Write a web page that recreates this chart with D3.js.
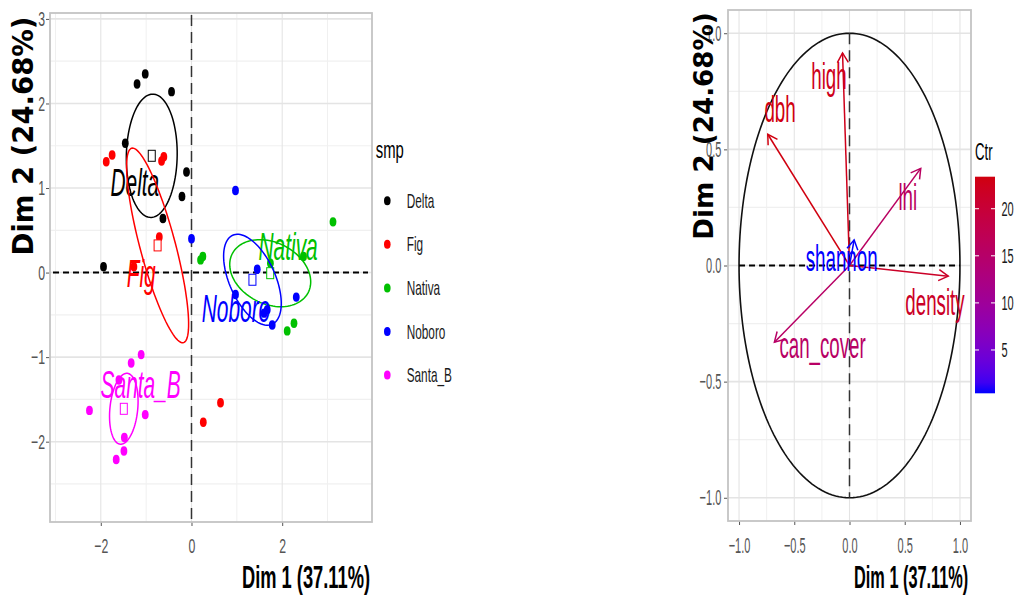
<!DOCTYPE html>
<html>
<head>
<meta charset="utf-8">
<script src="https://cdn.jsdelivr.net/npm/d3@7"></script>
<style>
body { margin: 0; background: #fff; }
svg { display: block; font-family: "Liberation Sans", Arial, sans-serif; }
</style>
</head>
<body>
<svg id="chart" width="1016" height="597"></svg>
<script>
// ---- individuals plot data (Dim 1, Dim 2) ----
const groups = ["Delta", "Fig", "Nativa", "Noboro", "Santa_B"];
const groupColors = ["#000000", "#FF0000", "#00C000", "#0000FF", "#FF00FF"];

const ptsDelta  = [[-1.20, 2.23], [-1.02, 2.35], [-0.44, 2.14], [-1.46, 1.53], [-0.11, 1.19], [-0.21, 0.90], [-0.63, 0.64], [-1.94, 0.07]];
const ptsFig    = [[-1.88, 1.31], [-1.75, 1.39], [-0.66, 1.32], [-0.61, 1.37], [-0.71, 0.42], [-1.27, 0.07], [0.26, -1.77], [0.64, -1.54]];
const ptsNativa = [[0.20, 0.15], [0.25, 0.19], [1.74, 0.11], [2.47, 0.19], [3.12, 0.60], [2.11, -0.69], [2.26, -0.60]];
const ptsNoboro = [[0.97, 0.97], [0.00, 0.40], [1.45, 0.04], [0.97, -0.26], [2.31, -0.29], [1.67, -0.44], [1.60, -0.48], [1.78, -0.62]];
const ptsSantaB = [[-1.11, -0.97], [-1.33, -1.07], [-1.60, -1.27], [-2.25, -1.63], [-1.02, -1.68], [-1.48, -1.95], [-1.49, -2.11], [-1.66, -2.21]];
const groupPoints = [ptsDelta, ptsFig, ptsNativa, ptsNoboro, ptsSantaB];

// confidence ellipses: semi-axes and angle (degrees, data space)
const ellA = [0.73, 1.29, 0.90, 0.73, 0.43];
const ellB = [0.56, 0.36, 0.38, 0.40, 0.30];
const ellAngle = [86, 118, -8, -36, 72];

// group label positions (x centre, baseline)
const groupLabelX = [-1.25, -1.11, 2.13, 0.98, -1.12];
const groupLabelY = [0.90, -0.17, 0.15, -0.58, -1.48];

const indXTicks = [-2, 0, 2];
const indYTicks = [-2, -1, 0, 1, 2, 3];
const indXMinor = [-3, -1, 1, 3];
const indYMinor = [-2.5, -1.5, -0.5, 0.5, 1.5, 2.5];

// ---- variables plot data ----
const varNames = ["high", "dbh", "lhi", "shannon", "density", "can_cover"];
const varDim1 = [-0.063, -0.74, 0.645, 0.042, 0.894, -0.68];
const varDim2 = [0.915, 0.565, 0.418, 0.11, -0.046, -0.33];
const varCtr = [22.7, 23.4, 15.9, 0.4, 21.6, 15.4];
const varLabelX = [-0.186, -0.629, 0.528, -0.071, 0.774, -0.244];
const varLabelY = [0.760, 0.619, 0.239, -0.024, -0.213, -0.40];

const varTicks = [-1, -0.5, 0, 0.5, 1];
const varMinor = [-0.75, -0.25, 0.25, 0.75];
const ctrTicks = [5, 10, 15, 20];

const svg = d3.select("#chart");

// text drawn narrower than the font, like the reference
function squashText(g, x, y, str, sx, size, opts) {
  opts = opts || {};
  return g.append("text")
    .attr("transform", "translate(" + x + "," + y + ") scale(" + sx + ",1)")
    .attr("text-anchor", opts.anchor || "start")
    .attr("font-size", size)
    .attr("font-weight", opts.weight || "normal")
    .attr("font-style", opts.style || "normal")
    .attr("fill", opts.fill || "#000")
    .text(str);
}

function drawGrid(g, x, y, xMajor, xMinor, yMajor, yMinor) {
  const x0 = x.range()[0], x1 = x.range()[1], y0 = y.range()[0], y1 = y.range()[1];
  g.selectAll(".vminor").data(xMinor).enter().append("line")
    .attr("x1", d => x(d)).attr("x2", d => x(d)).attr("y1", y0).attr("y2", y1)
    .attr("stroke", "#f0f0f0").attr("stroke-width", 1);
  g.selectAll(".hminor").data(yMinor).enter().append("line")
    .attr("y1", d => y(d)).attr("y2", d => y(d)).attr("x1", x0).attr("x2", x1)
    .attr("stroke", "#f0f0f0").attr("stroke-width", 1.2);
  g.selectAll(".vmajor").data(xMajor).enter().append("line")
    .attr("x1", d => x(d)).attr("x2", d => x(d)).attr("y1", y0).attr("y2", y1)
    .attr("stroke", "#e4e4e4").attr("stroke-width", 1.1);
  g.selectAll(".hmajor").data(yMajor).enter().append("line")
    .attr("y1", d => y(d)).attr("y2", d => y(d)).attr("x1", x0).attr("x2", x1)
    .attr("stroke", "#e4e4e4").attr("stroke-width", 1.6);
}

function drawAxes(g, x, y, xTicks, yTicks, fmt, size, sx, padLeft) {
  const xAxis = d3.axisBottom(x).tickValues(xTicks).tickSize(4).tickFormat(fmt);
  const yAxis = d3.axisLeft(y).tickValues(yTicks).tickSize(4).tickFormat(fmt);
  const gx = g.append("g").attr("transform", "translate(0," + y.range()[0] + ")").call(xAxis);
  const gy = g.append("g").attr("transform", "translate(" + x.range()[0] + ",0)").call(yAxis);
  [gx, gy].forEach(a => {
    a.select(".domain").remove();
    a.selectAll("line").attr("stroke", "#555");
    a.selectAll("text").attr("fill", "#555").attr("font-size", size)
      .attr("font-family", "'Liberation Sans', Arial, sans-serif");
  });
  gx.selectAll("text").attr("y", 16).attr("dy", "0.71em").attr("transform", "scale(" + sx + ",1)");
  gy.selectAll("text").attr("x", -padLeft / sx).attr("transform", "scale(" + sx + ",1)");
  // panel border
  g.append("rect")
    .attr("x", x.range()[0]).attr("y", y.range()[1])
    .attr("width", x.range()[1] - x.range()[0]).attr("height", y.range()[0] - y.range()[1])
    .attr("fill", "none").attr("stroke", "#c4c4c4").attr("stroke-width", 1.8);
}

// ===================== left: individuals =====================
const gL = svg.append("g");
const xL = d3.scaleLinear().domain([-3.12, 3.98]).range([50, 372]);
const yL = d3.scaleLinear().domain([-2.95, 3.07]).range([522, 13]);

drawGrid(gL, xL, yL, indXTicks, indXMinor, indYTicks, indYMinor);

// reference lines
gL.append("line").attr("x1", xL.range()[0] + 3).attr("x2", xL.range()[1] - 4)
  .attr("y1", yL(0)).attr("y2", yL(0))
  .attr("stroke", "#000").attr("stroke-width", 2).attr("stroke-dasharray", "6,4");
gL.append("line").attr("x1", xL(0)).attr("x2", xL(0))
  .attr("y1", yL.range()[1] + 2).attr("y2", yL.range()[0])
  .attr("stroke", "#333").attr("stroke-width", 1.5).attr("stroke-dasharray", "11,6");

const ellLine = d3.line().x(d => xL(d[0])).y(d => yL(d[1]));

groups.forEach((name, i) => {
  const col = groupColors[i];
  const pts = groupPoints[i];
  const mx = d3.mean(pts, d => d[0]);
  const my = d3.mean(pts, d => d[1]);

  gL.selectAll(".pt" + i).data(pts).enter().append("ellipse")
    .attr("cx", d => xL(d[0])).attr("cy", d => yL(d[1]))
    .attr("rx", 3.4).attr("ry", 4.7).attr("fill", col);

  const th = ellAngle[i] * Math.PI / 180;
  const ring = d3.range(0, 101).map(k => {
    const t = k / 100 * 2 * Math.PI;
    const u = ellA[i] * Math.cos(t), v = ellB[i] * Math.sin(t);
    return [mx + u * Math.cos(th) - v * Math.sin(th), my + u * Math.sin(th) + v * Math.cos(th)];
  });
  gL.append("path").attr("d", ellLine(ring))
    .attr("fill", "none").attr("stroke", col).attr("stroke-width", 1.5);

  squashText(gL, xL(groupLabelX[i]), yL(groupLabelY[i]), name, 0.55, 38,
    { anchor: "middle", style: "italic", fill: col });

  gL.append("rect")
    .attr("x", xL(mx) - 3.5).attr("y", yL(my) - 5.5)
    .attr("width", 7).attr("height", 11)
    .attr("fill", "#fff").attr("stroke", col).attr("stroke-width", 1);
});

drawAxes(gL, xL, yL, indXTicks, indYTicks, d3.format("d"), 20.5, 0.6, 5);

squashText(gL, 370, 588, "Dim 1 (37.11%)", 0.59, 31, { anchor: "end", weight: "bold" });
gL.append("text")
  .attr("transform", "translate(33,136) rotate(-90)")
  .attr("text-anchor", "middle")
  .attr("font-family", "'DejaVu Sans', sans-serif")
  .attr("font-weight", "bold").attr("font-size", 27.5)
  .text("Dim 2 (24.68%)");

// legend
const legY0 = 200.7, legStep = 43.6;
squashText(gL, 375.7, 158, "smp", 0.62, 24);
groups.forEach((name, i) => {
  gL.append("ellipse").attr("cx", 387.3).attr("cy", legY0 + i * legStep)
    .attr("rx", 3.3).attr("ry", 4.5).attr("fill", groupColors[i]);
  squashText(gL, 406.7, legY0 + i * legStep + 7, name, 0.59, 20, { fill: "#1a1a1a" });
});

// ===================== right: variables =====================
const gR = svg.append("g");
const xR = d3.scaleLinear().domain([-1.1, 1.1]).range([728, 971]);
const yR = d3.scaleLinear().domain([-1.1, 1.1]).range([521, 10]);

drawGrid(gR, xR, yR, varTicks, varMinor, varTicks, varMinor);

const ctrMin = d3.min(varCtr), ctrMax = d3.max(varCtr);
const ctrColor = d3.scaleLinear()
  .domain([ctrMin, ctrMax])
  .range(["#0000FF", "#D0000F"])
  .interpolate(d3.interpolateLab);

// correlation circle
const circ = d3.range(0, 201).map(k => {
  const t = k / 200 * 2 * Math.PI;
  return [Math.cos(t), Math.sin(t)];
});
gR.append("path")
  .attr("d", d3.line().x(d => xR(d[0])).y(d => yR(d[1]))(circ))
  .attr("fill", "none").attr("stroke", "#111").attr("stroke-width", 1.6);

gR.append("line").attr("x1", xR(-1)).attr("x2", xR(1)).attr("y1", yR(0)).attr("y2", yR(0))
  .attr("stroke", "#000").attr("stroke-width", 2).attr("stroke-dasharray", "6,4");
gR.append("line").attr("x1", xR(0)).attr("x2", xR(0)).attr("y1", yR(1)).attr("y2", yR(-1))
  .attr("stroke", "#333").attr("stroke-width", 1.5).attr("stroke-dasharray", "11,6");

varNames.forEach((name, i) => {
  const col = ctrColor(varCtr[i]);
  const x0 = xR(0), y0 = yR(0), x1 = xR(varDim1[i]), y1 = yR(varDim2[i]);
  gR.append("line").attr("x1", x0).attr("y1", y0).attr("x2", x1).attr("y2", y1)
    .attr("stroke", col).attr("stroke-width", 1.5);
  const ang = Math.atan2(y1 - y0, x1 - x0);
  const hl = 11, ha = Math.PI / 6;
  const head = [
    [x1 - hl * Math.cos(ang - ha), y1 - hl * Math.sin(ang - ha)],
    [x1, y1],
    [x1 - hl * Math.cos(ang + ha), y1 - hl * Math.sin(ang + ha)]
  ];
  gR.append("path").attr("d", d3.line()(head))
    .attr("fill", "none").attr("stroke", col).attr("stroke-width", 1.5);
});

varNames.forEach((name, i) => {
  squashText(gR, xR(varLabelX[i]), yR(varLabelY[i]), name, 0.52, 36,
    { anchor: "middle", fill: ctrColor(varCtr[i]) });
});

drawAxes(gR, xR, yR, varTicks, varTicks, d3.format(".1f"), 22, 0.5, 6.7);

squashText(gR, 968.3, 588, "Dim 1 (37.11%)", 0.51, 32, { anchor: "end", weight: "bold" });
gR.append("text")
  .attr("transform", "translate(713,126) rotate(-90)")
  .attr("text-anchor", "middle")
  .attr("font-family", "'DejaVu Sans', sans-serif")
  .attr("font-weight", "bold").attr("font-size", 26.2)
  .text("Dim 2 (24.68%)");

// colour bar legend
const barX = 975, barW = 20;
const barY = d3.scaleLinear().domain([ctrMin, ctrMax]).range([393.3, 176.7]);
const grad = svg.append("defs").append("linearGradient")
  .attr("id", "ctrGrad").attr("x1", 0).attr("y1", 1).attr("x2", 0).attr("y2", 0);
d3.range(0, 21).forEach(k => {
  grad.append("stop").attr("offset", k / 20)
    .attr("stop-color", ctrColor(ctrMin + k / 20 * (ctrMax - ctrMin)));
});
gR.append("rect").attr("x", barX).attr("y", barY.range()[1])
  .attr("width", barW).attr("height", barY.range()[0] - barY.range()[1])
  .attr("fill", "url(#ctrGrad)");
ctrTicks.forEach(v => {
  gR.append("line").attr("x1", barX).attr("x2", barX + 4).attr("y1", barY(v)).attr("y2", barY(v))
    .attr("stroke", "#fff").attr("stroke-width", 1);
  gR.append("line").attr("x1", barX + barW - 4).attr("x2", barX + barW).attr("y1", barY(v)).attr("y2", barY(v))
    .attr("stroke", "#fff").attr("stroke-width", 1);
  squashText(gR, 1001.5, barY(v) + 7, String(v), 0.55, 20, { fill: "#1a1a1a" });
});
squashText(gR, 975, 160, "Ctr", 0.55, 24);
</script>
</body>
</html>
